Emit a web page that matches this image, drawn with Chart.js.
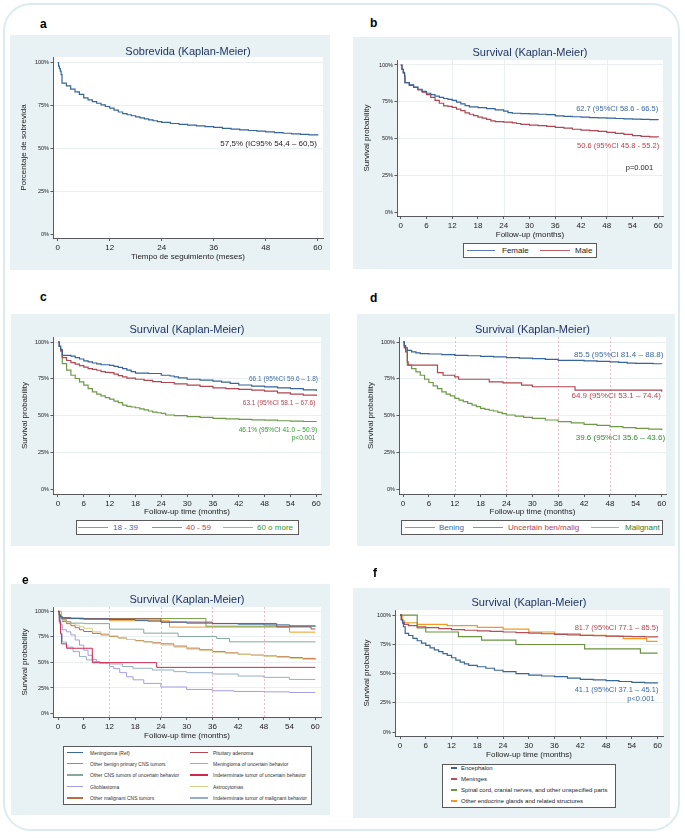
<!DOCTYPE html>
<html><head><meta charset="utf-8">
<script src="https://cdn.jsdelivr.net/npm/chart.js@4.4.1/dist/chart.umd.min.js"></script>
<style>
html,body{margin:0;padding:0;background:#fff;}
body{width:685px;height:838px;position:relative;overflow:hidden;font-family:"Liberation Sans",Arial,sans-serif;}
.frame{position:absolute;left:3px;top:3px;width:673px;height:824px;border:2.5px solid #dcebee;border-radius:28px;}
canvas{position:absolute;background:#e8f1f3;}
.t{position:absolute;white-space:nowrap;line-height:1;transform:translateY(-50%);}
.sw{position:absolute;}
.lg{position:absolute;background:#fff;border:1px solid #5a5a5a;box-sizing:border-box;}
</style></head><body>
<div class="frame"></div>
<canvas id="ca"></canvas><canvas id="cb"></canvas><canvas id="cc"></canvas>
<canvas id="cd"></canvas><canvas id="ce"></canvas><canvas id="cf"></canvas>
<script>
const FONT = '"Liberation Sans", Arial, sans-serif';
const Y_TICKS = [0, 25, 50, 75, 100];
const X_TICKS_12 = [0, 12, 24, 36, 48, 60];
const X_TICKS_6 = [0, 6, 12, 18, 24, 30, 36, 42, 48, 54, 60];

// ---------- Panel a ----------
const aT = [0,0.2,0.4,0.6,0.8,1,2,3,4,5,6,7,8,9,10,11,12,13,14,15,16,17,18,19,20,21,22,23,24,26,28,30,32,34,36,38,40,42,44,46,48,50,52,54,56,58,60];
const aS = [100,98,96.5,95,93,88,86.5,84.5,83,81.5,79.5,78.3,77.2,76.3,75.4,74.4,73.5,72.3,71.2,70.3,69.6,69,68.4,67.8,67.2,66.6,66.1,65.6,65.1,64.5,64,63.5,63.1,62.7,62.2,61.7,61.2,60.8,60.4,60,59.6,59.2,58.8,58.4,58.1,57.8,57.5];

// ---------- Panel b ----------
const bFemaleT = [0,0.3,0.6,0.9,1,2,3,4,5,6,7,8,9,10,11,12,13,14,15,16,18,20,22,24,25,26,28,30,32,34,36,38,40,42,44,46,48,50,52,54,56,58,60];
const bFemaleS = [100,97,95,93,88,86.5,85,83.5,82,80.8,79.8,78.8,78,77.2,76.6,76,74.8,73.5,72.4,71.5,71,70.3,69.5,68.6,67.6,67.2,66.9,66.7,66.5,66.2,65.4,65.1,64.8,64.5,64.2,64,63.8,63.6,63.4,63.2,63,62.8,62.7];
const bMaleT = [0,0.3,0.6,0.9,1,2,3,4,5,6,7,8,9,10,11,12,13,14,15,16,17,18,19,20,21,22,24,26,27,28,30,32,34,36,38,40,42,44,46,48,50,52,54,56,58,60];
const bMaleS = [100,97,94.5,92,88,86.2,84.8,83,81.5,79.8,78,76,74,72.2,71.8,71.2,70,69,67.5,66.5,65.6,64.6,63.8,63,62,61.5,61.1,60.6,60.2,59.6,59.1,58.7,58.2,57.6,57,56.3,55.7,55.3,54.8,54.2,53.5,52.8,51.9,51.5,51.1,50.8];

// ---------- Panel c ----------
const c1839T = [0,0.3,0.6,1,2,3,4,5,6,7,8,9,10,12,13,14,15,16,17,18,21,24,26,27,28,30,33,36,38,40,42,45,48,51,54,57,60];
const c1839S = [100,97,95,91,91,90.5,89.5,88.5,87.2,86.5,85.8,85.2,84.6,84.2,83.5,82.8,82,81,80,79,78.7,77.5,77,76.4,75.7,74.8,74.2,73.5,72.8,72,70.9,70.2,69.6,69,68.4,67.6,66.8];
const c4059T = [0,0.3,0.6,1,2,3,4,5,6,7,8,9,10,11,12,13,14,15,16,18,20,22,24,27,30,33,36,39,42,45,48,51,54,57,60];
const c4059S = [100,97,94,89.5,87.5,86,85,84,83,82,81.5,80.9,80,79.5,79.3,78.2,77.3,76.4,75.5,74.8,74,73.2,72.6,71.6,70.8,70,69,68.5,68,67.4,66.7,65.6,64.7,64,63.4];
const c60T = [0,0.3,0.6,1,2,3,4,5,6,7,8,9,10,11,12,13,14,15,16,17,18,19,20,21,22,23,24,25,27,30,33,36,39,42,45,48,51,54,57,60];
const c60S = [100,97,94,85.4,81,77.5,75.3,73,70.8,68.5,66.3,64.7,63.6,62.4,61.3,60,59,57.3,56.4,56,55.5,54.8,54,53.3,52.6,52.1,51.7,50.6,50.2,49.5,49,48.3,48,47.6,47.3,47.1,46.7,46.4,46.2,46.1];

// ---------- Panel d ----------
const dBenT = [0,0.3,0.6,1,2,3,4,6,9,12,15,18,21,24,27,30,33,36,39,42,45,48,50,52,54,56,58,60];
const dBenS = [100,97.5,96,94.4,93.3,92.7,92.2,91.9,91.5,91,90.7,90.3,89.9,89.4,89.1,88.8,88.3,87.6,87.6,87.2,86.9,86.5,86.2,85.7,85.6,85.5,85.3,85.2];
const dUncT = [0,0.3,0.6,1,1.2,8,9.3,12,12.9,20,23.2,27.5,30,39.9,60];
const dUncS = [100,96,93.3,86.5,84.3,79.3,77.5,76.4,74.8,73,72.4,70.8,69.7,67.4,66.3];
const dMalT = [0,0.3,0.6,1,2,3,4,5,6,7,8,9,10,11,12,13,14,15,16,17,18,19,20,21,22,23,24,26,28,30,33,36,39,42,45,48,51,54,57,60];
const dMalS = [100,97,94.4,84.3,82,79.8,77.5,74.8,72.6,70.3,68.5,66.3,64.7,63.6,61.8,60.7,59.6,58.4,57.3,56.2,55.1,54.4,53.8,53.3,52.4,51.5,50.6,49.8,49,48.3,47.2,46.1,45.2,44.3,43.6,42.7,42.1,41.6,41,40.4];

// ---------- Panel e ----------
const eLabels = ["Meningioma (Ref)","Pituitary adenoma","Other benign primary CNS tumors","Meningioma of uncertain behavior","Other CNS tumors of uncertain behavior","Indeterminate tumor of uncertain behavior","Glioblastoma","Astrocytomas","Other malignant CNS tumors","Indeterminate tumor of malignant behavior"];
const eColors = ["#3b6b9a","#b04a55","#7aa24c","#f39c1e","#86a79e","#d0284e","#a49de0","#d8ce8c","#bd6c40","#97aec6"];
const eT = [
  [0,0.3,0.6,1,3,6,12,18,21,24,30,36,42,48,54,60],
  [0,0.3,0.6,1,2,6,12,24,36,51,59,60],
  [0,0.3,0.6,1,3,6,34.5,60],
  [0,0.8,1.5,5,12,26,54,60],
  [0,0.3,0.6,1,2,3,6,12,20,28,37,40,60],
  [0,0.3,0.6,0.8,2,8,23,60],
  [0,0.3,0.6,1,2,3,4,5,6,7,8,9,9.7,12,13,14.4,16,17.5,20,24,30,36,41,48,54,60],
  [0,0.3,0.6,1,2,3,4,5,6,8,10,12,14,16,18,20,22,24,27,30,33,36,39,42,45,48,51,54,57,60],
  [0,0.3,0.6,1,2,3,4,5,6,8,10,12,14,16,18,20,22,24,27,30,33,36,39,42,45,48,51,54,57,60],
  [0,0.3,0.6,1,2,3.5,5,6.6,8.2,9.7,12,15,17.5,22,27,30,36,42,48,54,60]
];
const eS = [
  [100,96,94.5,93.5,93,92.5,92,91.2,90.5,89.5,88.5,88,87.5,86.8,85.8,85.2],
  [100,96,94.5,93.5,93,92.8,92.6,89.5,88.2,84.8,82.8,82.8],
  [100,97,95,94,93.5,93,85.5,85.5],
  [100,94.1,93.2,92.5,90.8,84.6,79.7,79.7],
  [100,97,94,92,90,88.5,88,82.6,78.7,75.4,73.4,70.2,70],
  [100,90,78,68.2,63.9,49.8,45.2,45.2],
  [100,93,87,82,80,77,72,67,62,57,53,51,50,46,44,40,36,33,29.5,26,23.6,22.3,21.6,21.2,20.6,20.6],
  [100,97,94,91,89.5,88,86.5,85,83.5,80,78,76,74,72.5,71,70,68.5,67,65,63,61.5,60,59,58,57,56,55,54,53,52.3],
  [100,97,93,90,88,86,84,82,80.3,78.5,77,75.4,74,72.5,71.5,70.3,69.2,68.2,66,64,62.4,60.7,59.4,58,57.2,56.4,55.6,54.8,54,53.1],
  [100,88,78,70,65,60.6,55.7,52.5,50.8,49.2,48.5,46,44.3,42.6,41,40,38.7,36.7,35.4,33.4,33.4]
];

// ---------- Panel f ----------
const fLabels = ["Encephalon","Meninges","Spinal cord, cranial nerves, and other unspecified parts","Other endocrine glands and related structures"];
const fColors = ["#3a6696","#b0505a","#6a9440","#f29a20"];
const fEncT = [0,0.3,0.6,0.8,1.2,2,3,4,5,6,7,8,9,10,11,12,13,14,15,16,18,20,22,24,27,30,33,36,39,42,45,48,51,54,57,60];
const fEncS = [100,96,93,90,84.3,82.5,80,78,76,74,72,70.3,68.7,67,65.5,63.5,61.5,59.8,58.3,57,55.8,54.5,52.8,51.6,50,48.7,47.9,47.3,46,45,44.5,43.9,43.2,42.5,42,41.6];
const fMenT = [0,0.3,0.6,1,2,4,6,9,12,15,18,21,24,27,30,33,36,39,42,45,48,51,54,57,60];
const fMenS = [100,96,93.5,92,91,90,89.2,88.4,87.6,87,86.5,86,85.5,85,84.5,84,83.5,83,82.6,82.3,82,81.8,81.5,81.3,81.1];
const fSpiT = [0,4,6,13.6,19,27,43,56,60];
const fSpiS = [100,89,85.5,81.5,78.5,74.8,71,67.4,67.4];
const fEndT = [0,0.5,1,4,11,18,24,30,36,42,48,52,57.5,60];
const fEndS = [100,95,93.4,92,91,89.5,88,85.5,84,82.6,82,79.8,77.5,77.5];

// ---------- helpers ----------
const pts = (T, S) => T.map((t, i) => ({x: t, y: S[i]}));
const ds = (T, S, color, w) => ({data: pts(T, S), borderColor: color, borderWidth: w || 1.2, pointRadius: 0, stepped: true, fill: false, tension: 0});

const kmPlugin = {
  id: 'km',
  beforeDraw(chart, args, o) {
    const {ctx, chartArea: a} = chart;
    ctx.save();
    ctx.fillStyle = '#ffffff';
    ctx.fillRect(a.left, a.top, a.right - a.left, a.bottom - a.top);
    ctx.restore();
  },
  beforeDatasetsDraw(chart, args, o) {
    const {ctx, chartArea: a, scales: {x}} = chart;
    (o.vlines || []).forEach(v => {
      const px = Math.round(x.getPixelForValue(v)) + 0.5;
      ctx.save();
      ctx.strokeStyle = o.vcolor; ctx.lineWidth = 0.8;
      ctx.setLineDash(o.vdash || []);
      ctx.beginPath(); ctx.moveTo(px, a.top); ctx.lineTo(px, a.bottom); ctx.stroke();
      ctx.restore();
    });
  },
  afterDraw(chart, args, o) {
    const {ctx, chartArea: a, scales: {x, y}} = chart;
    ctx.save();
    ctx.fillStyle = '#1c2f5e';
    ctx.font = '11px ' + FONT;
    ctx.textAlign = 'center'; ctx.textBaseline = 'middle';
    ctx.fillText(o.title, (a.left + a.right) / 2, o.titleY);
    (o.notes || []).forEach(n => {
      ctx.fillStyle = n.color;
      ctx.font = n.size + 'px ' + FONT;
      ctx.textAlign = 'right'; ctx.textBaseline = 'middle';
      ctx.fillText(n.text, x.getPixelForValue(n.x), y.getPixelForValue(n.y));
    });
    ctx.restore();
  }
};

function makePanel(cfg) {
  const [bx, by, bw, bh] = cfg.bg;
  const cv = document.getElementById(cfg.id);
  cv.width = bw; cv.height = bh;
  cv.style.left = bx + 'px'; cv.style.top = by + 'px';
  cv.style.width = bw + 'px'; cv.style.height = bh + 'px';
  const WL = cfg.white[0] - bx, WT = cfg.white[1] - by, WR = bx + bw - cfg.white[2], WB = by + bh - cfg.white[3];
  const PL = cfg.yTitleX - bx - 4;
  const PB = bh - 4 - (cfg.xTitleY - by);
  new Chart(cv, {
    type: 'line',
    data: {datasets: cfg.datasets},
    options: {
      responsive: false, animation: false, devicePixelRatio: 1, events: [],
      layout: {padding: {left: PL, top: WT, right: WR, bottom: PB}},
      plugins: {
        legend: {display: false}, tooltip: {enabled: false}, title: {display: false},
        km: {title: cfg.title, titleY: cfg.titleY - by, notes: cfg.notes, vlines: cfg.vlines, vcolor: cfg.vcolor, vdash: cfg.vdash}
      },
      scales: {
        x: {
          type: 'linear', min: cfg.xmin, max: cfg.xmax,
          afterBuildTicks: s => { s.ticks = cfg.xticks.map(v => ({value: v})); },
          afterFit: s => { s.height = WB - PB; s.paddingLeft = 0; s.paddingRight = 0; s.paddingTop = 0; s.paddingBottom = 0; },
          grid: {drawOnChartArea: false, drawTicks: true, tickLength: 3, tickColor: '#333', tickWidth: 0.8},
          border: {display: true, color: '#333', width: 0.8},
          ticks: {autoSkip: false, maxRotation: 0, padding: 2, color: '#222', font: {family: FONT, size: 8}},
          title: {display: true, text: cfg.xTitle, color: '#222', font: {family: FONT, size: 8, lineHeight: 1}, padding: 0}
        },
        y: {
          type: 'linear', min: cfg.ymin, max: cfg.ymax,
          afterBuildTicks: s => { s.ticks = Y_TICKS.map(v => ({value: v})); },
          afterFit: s => { s.width = WL - PL; s.paddingLeft = 0; s.paddingRight = 0; s.paddingTop = 0; s.paddingBottom = 0; },
          grid: {color: c => (c.tick && c.tick.value === 0) ? 'rgba(0,0,0,0)' : '#e4ecee', lineWidth: 0.8, tickLength: 2.5, tickColor: '#333', tickWidth: 0.8},
          border: {display: true, color: '#333', width: 0.8},
          ticks: {padding: 1.5, color: '#222', font: {family: FONT, size: 5.5}, callback: v => v + '%'},
          title: {display: true, text: cfg.yTitle, color: '#222', font: {family: FONT, size: 8, lineHeight: 1}, padding: 0}
        }
      }
    },
    plugins: [kmPlugin]
  });
}

const SURV = 'Survival (Kaplan-Meier)';
const BLUE = '#2f6096', RED = '#a8404b', GREEN = '#66923f';

makePanel({id: 'ca', bg: [10, 35, 320, 235], white: [53, 57, 323, 238], titleY: 52, yTitleX: 24, xTitleY: 257,
  xmin: -1.08, xmax: 61.22, ymin: -2.33, ymax: 103.3, xticks: X_TICKS_12,
  title: 'Sobrevida (Kaplan-Meier)', yTitle: 'Porcentaje de sobrevida', xTitle: 'Tiempo de seguimiento (meses)',
  datasets: [ds(aT, aS, '#35659a')],
  notes: [{text: '57,5% (IC95% 54,4 – 60,5)', x: 59.8, y: 52.5, color: '#222', size: 8}]});

makePanel({id: 'cb', bg: [353, 37, 319, 232], white: [397, 60, 663, 216], titleY: 53, yTitleX: 366.7, xTitleY: 235,
  xmin: -0.86, xmax: 61.1, ymin: -2.7, ymax: 103.4, xticks: X_TICKS_6,
  title: SURV, yTitle: 'Survival probability', xTitle: 'Follow-up (months)',
  vlines: [12, 24, 36, 48], vcolor: '#e4ecee', vdash: [],
  datasets: [ds(bFemaleT, bFemaleS, '#35659a'), ds(bMaleT, bMaleS, '#b04652')],
  notes: [{text: '62.7 (95%CI 58.6 - 66.5)', x: 60, y: 70.1, color: '#3a6aa0', size: 7.5},
          {text: '50.6 (95%CI 45.8 - 55.2)', x: 60.2, y: 44.9, color: '#b5434f', size: 7.5},
          {text: 'p=0.001', x: 58.8, y: 29.9, color: '#222', size: 7.5}]});

makePanel({id: 'cc', bg: [11, 314, 319, 232], white: [53, 337, 321, 494], titleY: 330, yTitleX: 25, xTitleY: 512,
  xmin: -1.16, xmax: 61.1, ymin: -2.9, ymax: 103.4, xticks: X_TICKS_6,
  title: SURV, yTitle: 'Survival probability', xTitle: 'Follow-up time (months)',
  datasets: [ds(c1839T, c1839S, '#35659a'), ds(c4059T, c4059S, '#b04652'), ds(c60T, c60S, '#6e9a48')],
  notes: [{text: '66.1 (95%CI 59.6 – 1.8)', x: 60.4, y: 74.8, color: '#3a6aa0', size: 6.5},
          {text: '63.1 (95%CI 58.1 – 67.6)', x: 59.8, y: 58.7, color: '#b5434f', size: 6.5},
          {text: '46.1% (95%CI 41.0 – 50.9)', x: 60.2, y: 40.5, color: '#2f9a2f', size: 6.5},
          {text: 'p<0.001', x: 59.8, y: 35.1, color: '#2f9a2f', size: 6.5}]});

makePanel({id: 'cd', bg: [357, 314, 318, 232], white: [399, 337, 666, 494], titleY: 330, yTitleX: 370.7, xTitleY: 512,
  xmin: -0.93, xmax: 61.0, ymin: -2.9, ymax: 103.4, xticks: X_TICKS_6,
  title: SURV, yTitle: 'Survival probability', xTitle: 'Follow-up time (months)',
  vlines: [12, 24, 36, 48], vcolor: '#f2a6b8', vdash: [2, 2],
  datasets: [ds(dBenT, dBenS, '#35659a'), ds(dUncT, dUncS, '#b04652'), ds(dMalT, dMalS, '#6e9a48')],
  notes: [{text: '85.5 (95%CI 81.4 – 88.8)', x: 60.4, y: 91.5, color: '#3a6aa0', size: 8},
          {text: '64.9 (95%CI 53.1 – 74.4)', x: 59.8, y: 63.6, color: '#b5434f', size: 8},
          {text: '39.6 (95%CI 35.6 – 43.6)', x: 60.8, y: 34.9, color: '#2e8b2e', size: 8}]});

makePanel({id: 'ce', bg: [11, 584, 319, 231], white: [53, 607, 321, 717], titleY: 600, yTitleX: 25, xTitleY: 736,
  xmin: -1.17, xmax: 61.33, ymin: -3.4, ymax: 104.3, xticks: X_TICKS_6,
  title: SURV, yTitle: 'Survival probability', xTitle: 'Follow-up time (months)',
  vlines: [12, 24, 36, 48], vcolor: '#f2a6b8', vdash: [2, 2],
  datasets: eT.map((T, i) => ds(T, eS[i], eColors[i], 1)),
  notes: []});

makePanel({id: 'cf', bg: [353, 588, 317, 230], white: [395, 610, 663, 736], titleY: 603, yTitleX: 366.7, xTitleY: 755,
  xmin: -1.17, xmax: 61.26, ymin: -3.4, ymax: 104.3, xticks: X_TICKS_6,
  title: SURV, yTitle: 'Survival probability', xTitle: 'Follow-up time (months)',
  vlines: [12, 24, 36, 48], vcolor: '#e4ecee', vdash: [],
  datasets: [ds(fEncT, fEncS, fColors[0]), ds(fMenT, fMenS, fColors[1]), ds(fSpiT, fSpiS, fColors[2]), ds(fEndT, fEndS, fColors[3])],
  notes: [{text: '81.7 (95%CI 77.1 – 85.5)', x: 60.2, y: 88.6, color: '#b0454f', size: 7.5},
          {text: '41.1 (95%CI 37.1 – 45.1)', x: 60.2, y: 35.9, color: '#3a6aa0', size: 7.5},
          {text: 'p<0.001', x: 59.3, y: 28.2, color: '#3a6aa0', size: 7.5}]});

// ---------- HTML overlay: panel letters and legends ----------
function txt(x, y, s, size, color, weight) {
  const d = document.createElement('div');
  d.className = 't'; d.textContent = s;
  d.style.left = x + 'px'; d.style.top = y + 'px';
  d.style.fontSize = size + 'px'; d.style.color = color || '#222';
  if (weight) d.style.fontWeight = weight;
  document.body.appendChild(d); return d;
}
function sw(x1, x2, y, color, h) {
  const d = document.createElement('div');
  d.className = 'sw';
  d.style.left = x1 + 'px'; d.style.width = (x2 - x1) + 'px';
  d.style.top = (y - h / 2) + 'px'; d.style.height = h + 'px';
  d.style.background = color;
  document.body.appendChild(d);
}
function box(x1, y1, x2, y2) {
  const d = document.createElement('div');
  d.className = 'lg';
  d.style.left = x1 + 'px'; d.style.top = y1 + 'px';
  d.style.width = (x2 - x1) + 'px'; d.style.height = (y2 - y1) + 'px';
  document.body.appendChild(d);
}
const letters = [['a', 40, 24], ['b', 370, 23], ['c', 40, 297], ['d', 370, 298], ['e', 22, 580], ['f', 373, 573]];
letters.forEach(([s, x, y]) => txt(x, y, s, 12, '#000', 'bold'));

// legend b
box(463, 243, 597, 258);
sw(467, 495, 250.5, '#5a82ad', 1.3); txt(502, 250.5, 'Female', 8, '#222');
sw(540, 570, 250.5, '#b8606a', 1.3); txt(575, 250.5, 'Male', 8, '#222');
// legend c
const cLeg = ['18 - 39', '40 - 59', '60 o more'];
const cLegCol = ['#3a6aa0', '#b5434f', '#2f9a2f'];
const cLegLine = ['#7c9cc0', '#c27a82', '#9ab87f'];
box(76, 520, 299, 535);
[[78, 108, 113], [152, 182, 186], [223, 253, 257]].forEach(([a, b, t], i) => { sw(a, b, 527.5, cLegLine[i], 1.3); txt(t, 527.5, cLeg[i], 8, cLegCol[i]); });
// legend d
const dLeg = ['Bening', 'Uncertain ben/malig', 'Malignant'];
const dLegCol = ['#3a6aa0', '#b5434f', '#2e7d2e'];
box(401, 520, 663, 535);
[[405, 435, 439], [473, 503, 508], [591, 619, 625]].forEach(([a, b, t], i) => { sw(a, b, 527.5, cLegLine[i], 1.3); txt(t, 527.5, dLeg[i], 8, dLegCol[i]); });
// legend e (two columns, row-major)
box(63, 746, 312, 805);
const eRows = [752.7, 763.7, 775, 786.7, 798];
eLabels.forEach((s, i) => {
  const r = Math.floor(i / 2), c = i % 2;
  const y = eRows[r];
  if (c === 0) { sw(67, 83, y, eColors[i], 1.3); txt(90, y, s, 5, '#333'); }
  else { sw(190, 208, y, eColors[i], 1.3); txt(213, y, s, 5, '#333'); }
});
// legend f
box(442, 764, 616, 808);
const fRows = [768, 779, 790, 801];
fLabels.forEach((s, i) => { sw(451, 457, fRows[i], fColors[i], 1.3); txt(461, fRows[i], s, 6, '#222'); });
</script>
</body></html>
